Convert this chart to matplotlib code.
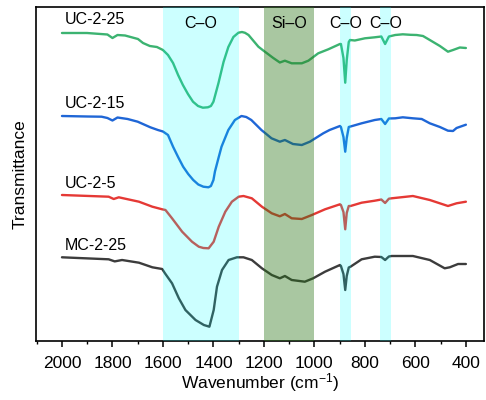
import matplotlib

matplotlib.use("Agg")
import matplotlib.pyplot as plt  # noqa: E402
from matplotlib.ticker import MultipleLocator  # noqa: E402

plt.rcParams["font.family"] = ["Liberation Sans", "DejaVu Sans"]
plt.rcParams["mathtext.default"] = "regular"

# UC-2-25
wn_uc25 = [2000, 1901, 1820, 1800, 1780, 1750, 1699, 1679, 1652, 1624, 1600, 1580, 1560,
           1540, 1521, 1501, 1481, 1461, 1442, 1422, 1410, 1400, 1380, 1360, 1341, 1321,
           1301, 1287, 1275, 1261, 1242, 1222, 1200, 1163, 1137, 1117, 1090, 1050, 1024, 985,
           945, 899, 895, 885, 878, 872, 864, 859, 840, 800, 761, 735, 720, 705, 680,
           650, 620, 595, 570, 543, 503, 471, 451, 424, 400]
t_uc25 = [308, 308, 306.5, 303, 306, 305.5, 302, 298, 295, 294, 291, 286, 278,
          266, 256, 247, 239.3, 235, 233.3, 233.7, 235, 239.3, 258, 279, 294, 304,
          308.3, 309, 308.2, 306, 300.3, 294.3, 290, 283, 278.5, 280.3, 277.7, 277.7, 280.3, 287.7,
          291.7, 297, 297, 283, 258.3, 281, 299, 301, 300.5, 302.7, 303.7, 304.5, 297, 304.5, 306,
          306.7, 306.2, 306, 305, 301, 295, 289.3, 291, 293.5, 293]

# UC-2-15
wn_uc15 = [2000, 1900, 1843, 1820, 1800, 1780, 1740, 1700, 1650, 1620, 1600, 1580, 1560,
           1540, 1520, 1500, 1480, 1460, 1440, 1420, 1410, 1400, 1394, 1380, 1368, 1341,
           1315, 1289, 1270, 1250, 1210, 1170, 1137, 1117, 1085, 1050, 1018, 965, 940, 899, 895,
           885, 878, 872, 864, 857, 813, 761, 735, 720, 705, 680, 650, 610, 575, 543, 503,
           471, 451, 437, 400]
t_uc15 = [225, 224.5, 224.3, 223, 220.5, 223.5, 222, 219.3, 213.7, 211, 209.5, 206, 194.3,
          184, 174.3, 167, 161, 156.5, 154.3, 153.7, 155, 161, 169.5, 183, 194.3, 211,
          221, 225, 224, 221, 211, 202.7, 199.3, 201, 197, 196, 199.3, 207.7, 211, 215, 214,
          204, 189.3, 203, 214, 214.5, 217.7, 221, 222, 217, 222.5, 222.7, 223.7, 222.7, 222, 217.7, 214,
          210.3, 210, 213, 216.3]

# UC-2-5
wn_uc5 = [2000, 1815, 1795, 1775, 1695, 1642, 1603, 1590, 1564, 1524, 1485, 1458, 1440,
          1419, 1399, 1379, 1353, 1327, 1300, 1281, 1248, 1208, 1169, 1137, 1117, 1090,
          1050, 1010, 958, 899, 895, 885, 878, 872, 864, 857, 813, 761, 735, 720, 705, 694,
          610, 543, 471, 437, 400]
t_uc5 = [146, 144.3, 142, 143.7, 139.3, 134.3, 131.7, 131, 122.7, 109.3, 99.3, 94.3, 93,
         92.7, 99.3, 114.3, 129.3, 139.3, 144.3, 145, 142.7, 134.3, 127.7, 124.7, 127, 122.7,
         122, 126, 131.7, 136.7, 136, 129, 111.7, 128, 135, 135, 138.3, 140.3, 141.5, 138, 142.3, 142.7,
         145, 141, 135, 137.7, 139.3]

# MC-2-25
wn_mc25 = [2000, 1815, 1791, 1762, 1695, 1642, 1603, 1592, 1564, 1537, 1511, 1471, 1438,
           1416, 1399, 1386, 1366, 1340, 1307, 1281, 1248, 1208, 1169, 1137, 1117, 1090,
           1038, 1005, 958, 899, 895, 885, 878, 872, 864, 857, 813, 761, 735, 720, 705, 694,
           610, 543, 484, 464, 431, 400]
t_mc25 = [83.7, 81.7, 79.6, 81, 78.3, 73.7, 72, 67.7, 57.7, 42.7, 31, 21, 16,
          14.3, 31, 54.3, 71, 81, 83.7, 83.7, 81, 72.7, 66, 62.7, 65, 61,
          59.3, 62.7, 69.3, 76, 75, 67, 51, 65, 73.5, 74.3, 81.7, 84.3, 84, 81, 84.5, 85,
          85, 81, 72.7, 73.7, 77, 77]

series = [
    ("UC-2-25", wn_uc25, t_uc25, "#3cb371"),
    ("UC-2-15", wn_uc15, t_uc15, "#1f66d6"),
    ("UC-2-5", wn_uc5, t_uc5, "#e53935"),
    ("MC-2-25", wn_mc25, t_mc25, "#3c3c3c"),
]
label_y = [321, 238, 158, 96]

band_lo = [1300, 1000, 855, 695]
band_hi = [1600, 1200, 900, 740]
band_names = ["C–O", "Si–O", "C–O", "C–O"]
band_colors = ["#00ffff", "#287316", "#00ffff", "#00ffff"]
band_alpha = [0.2, 0.4, 0.2, 0.2]

fig = plt.figure(figsize=(4.86, 4.0), dpi=100)
ax = fig.add_axes([0.074, 0.1475, 0.921, 0.835])

for (name, wn, t, color), ly in zip(series, label_y):
    ax.plot(wn, t, color=color, lw=1.7, zorder=2,
            solid_joinstyle="round", solid_capstyle="round")
    ax.text(1990, ly, name, fontsize=11.5, ha="left", va="center")

for lo, hi, name, c, a in zip(band_lo, band_hi, band_names, band_colors, band_alpha):
    ax.axvspan(lo, hi, color=c, alpha=a, lw=0, zorder=3)
    ax.text((lo + hi) / 2, 317, name, fontsize=11.5, ha="center", va="center", zorder=4)

ax.set_xlim(2103, 330)
ax.set_ylim(0, 334)
ax.xaxis.set_major_locator(MultipleLocator(200))
ax.xaxis.set_minor_locator(MultipleLocator(100))
ax.set_yticks([])
ax.tick_params(axis="x", which="major", direction="out", length=4, width=1.1,
               labelsize=12.5, pad=7)
ax.tick_params(axis="x", which="minor", direction="out", length=2.5, width=1.0)
for s in ax.spines.values():
    s.set_linewidth(1.2)

ax.set_xlabel("Wavenumber (cm$^{-1}$)", fontsize=12.5, labelpad=0)
ax.set_ylabel("Transmittance", fontsize=12.5, labelpad=6)

fig.savefig("out.png", dpi=100)
plt.close(fig)
